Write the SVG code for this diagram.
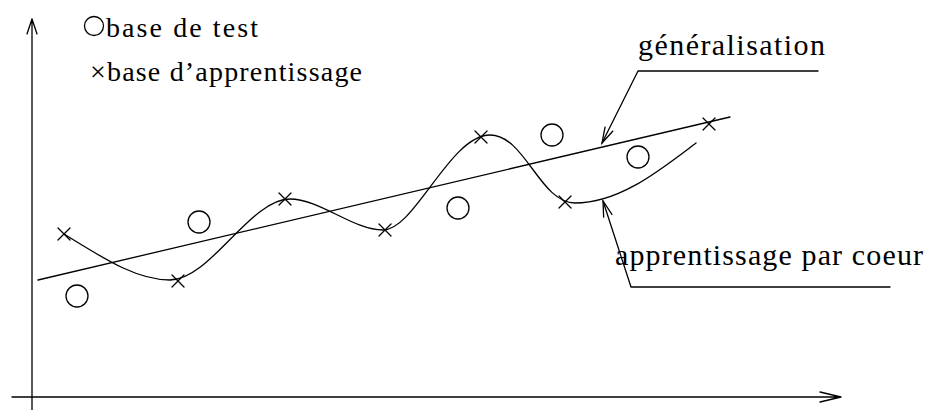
<svg xmlns="http://www.w3.org/2000/svg" width="938" height="410" viewBox="0 0 938 410">
<style>
.ln{fill:none;stroke:#000;stroke-width:1.3;stroke-linecap:round;stroke-linejoin:round}
.tx{font-family:"Liberation Serif","DejaVu Serif",serif;fill:#000}
</style>
<defs>
<marker id="arr" markerUnits="userSpaceOnUse" markerWidth="20" markerHeight="12" viewBox="-17 -6 19 12" refX="0" refY="0" orient="auto">
<path d="M-16,-4.5 L0,0 L-16,4.5" fill="none" stroke="#000" stroke-width="1.3"/>
</marker>
<path id="x" d="M-6,-6 L6,6 M-6,6 L6,-6" class="ln"/>
</defs>
<rect width="938" height="410" fill="#fff"/>
<g id="axes">
<path class="ln" d="M32,410 L32,19 M27,34 L32,19 L37,34"/>
<path class="ln" d="M12,397 L841,397 M820,392 L841,397 L820,402"/>
</g>
<g id="legend">
<circle cx="94" cy="26" r="9.5" class="ln"/>
<text class="tx" x="106" y="37" font-size="28" textLength="152" lengthAdjust="spacing">base de test</text>
<text class="tx" x="90" y="81" font-size="28" textLength="272" lengthAdjust="spacing">×base d’apprentissage</text>
</g>
<g id="generalisation-line">
<path class="ln" d="M38,280 L730,117"/>
</g>
<g id="rote-curve">
<path class="ln" d="M64,234 C100,256 135,280 170,280 C210,280 250,199 290,199 C320,199 353,230 383,230 C415,230 450,135 490,135 C525,135 540,203 575,203 C620,203 660,170 696,143"/>
</g>
<g id="training-points">
<use href="#x" x="64" y="234"/>
<use href="#x" x="178" y="281"/>
<use href="#x" x="285" y="199"/>
<use href="#x" x="385" y="230"/>
<use href="#x" x="481" y="137"/>
<use href="#x" x="565" y="202"/>
<use href="#x" x="709" y="124"/>
</g>
<g id="test-points">
<circle cx="77" cy="296" r="11" class="ln"/>
<circle cx="199" cy="222" r="11" class="ln"/>
<circle cx="458" cy="208" r="11" class="ln"/>
<circle cx="552" cy="135" r="11" class="ln"/>
<circle cx="638" cy="157" r="11" class="ln"/>
</g>
<g id="label-generalisation">
<text class="tx" x="638" y="55" font-size="30" textLength="187" lengthAdjust="spacing">généralisation</text>
</g>
<g id="label-par-coeur">
<text class="tx" x="615" y="265" font-size="30" textLength="308" lengthAdjust="spacing">apprentissage par coeur</text>
</g>
<g id="connectors">
<path class="ln" d="M818,71 L638,71 L602,143" marker-end="url(#arr)"/>
<path class="ln" d="M890,287 L631,287 L603,201" marker-end="url(#arr)"/>
</g>
</svg>
